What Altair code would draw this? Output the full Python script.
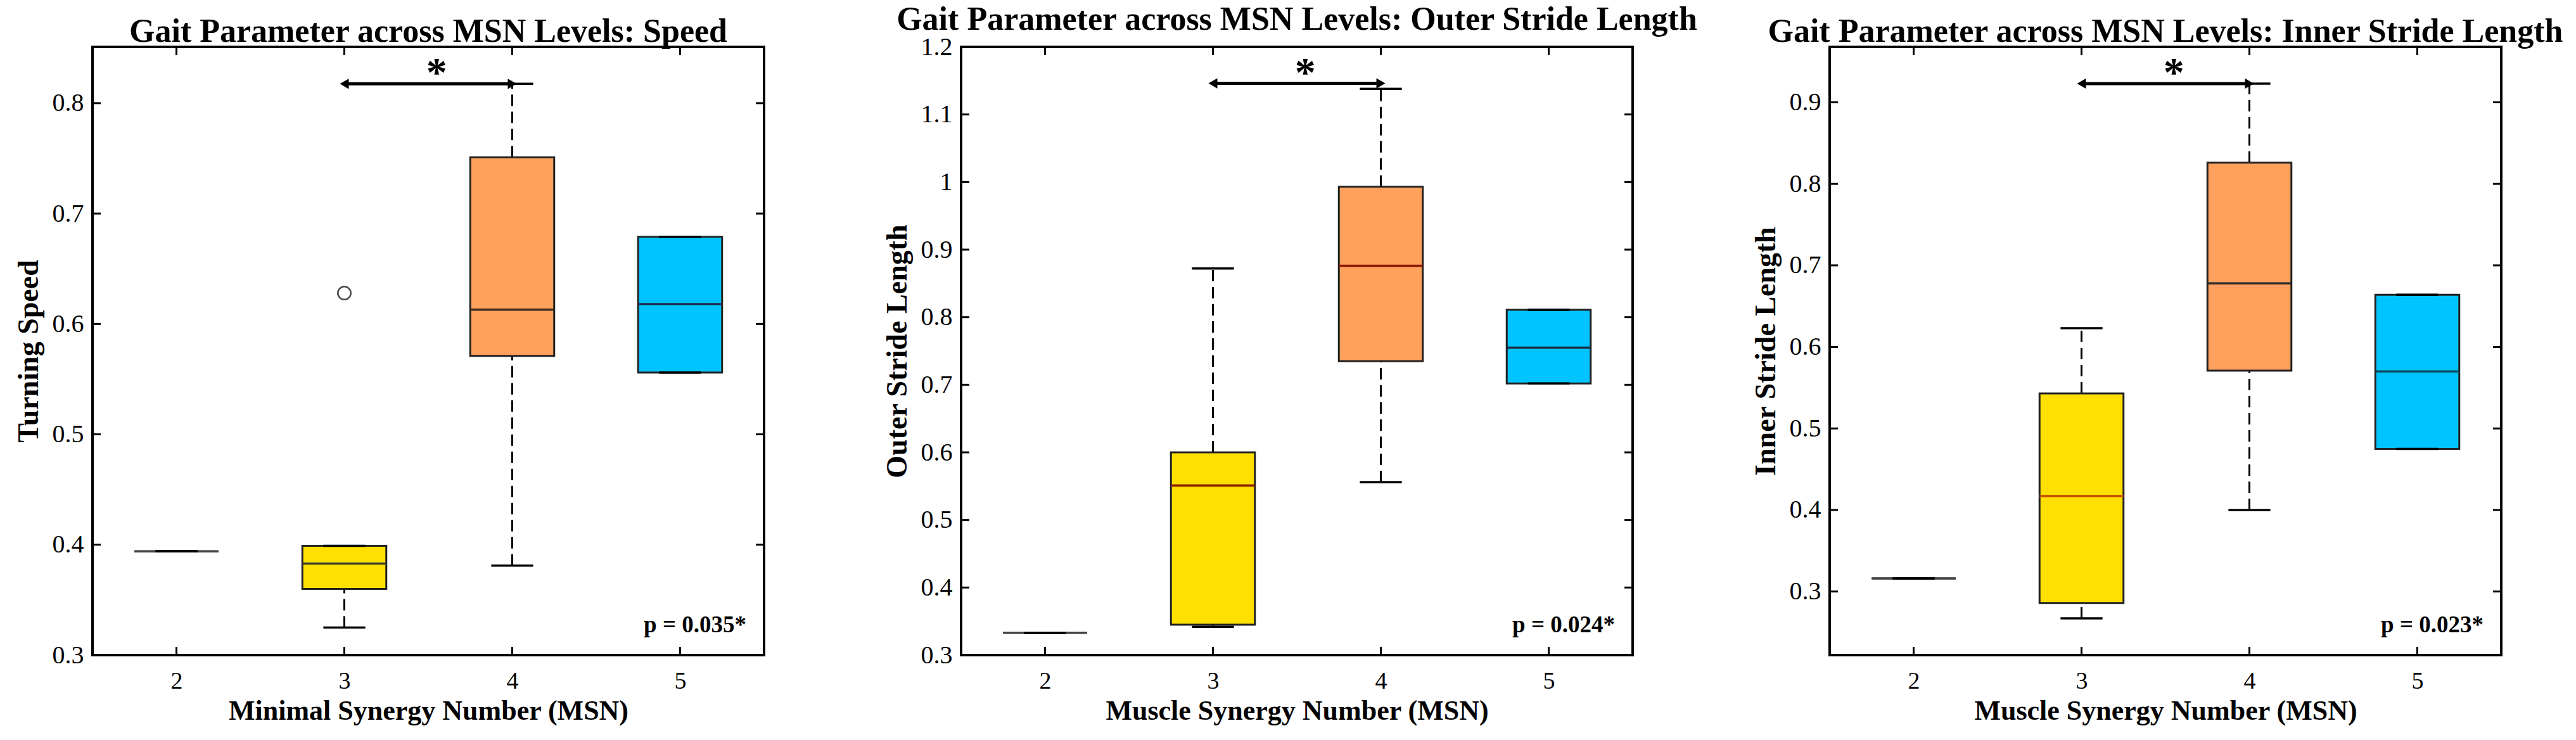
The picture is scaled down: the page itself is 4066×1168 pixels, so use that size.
import altair as alt
import pandas as pd

# Shared categories: MSN level and its slot on the x axis
msn_labels = ["2", "3", "4", "5"]
positions = [1, 2, 3, 4]
box_fill = ["#9a9a9a", "#FFE000", "#FFA05C", "#00C4FF"]

# Panel 1: turning speed
speed_q1 = [0.394, 0.360, 0.571, 0.556]
speed_med = [0.394, 0.383, 0.613, 0.618]
speed_q3 = [0.394, 0.399, 0.751, 0.679]
speed_lo = [0.394, 0.325, 0.381, 0.556]
speed_hi = [0.394, 0.399, 0.8175, 0.679]
speed_out_pos = [2]
speed_out_val = [0.628]
speed_med_color = ["#444444", "#3a3a2a", "#3a2a1a", "#1a2a4a"]
speed_ticks = [0.3, 0.4, 0.5, 0.6, 0.7, 0.8]
speed_domain = [0.3, 0.851]
speed_arrow = 0.8175
speed_p = "p = 0.035*"

# Panel 2: outer stride length
outer_q1 = [0.333, 0.345, 0.735, 0.702]
outer_med = [0.333, 0.551, 0.876, 0.755]
outer_q3 = [0.333, 0.600, 0.993, 0.811]
outer_lo = [0.333, 0.342, 0.556, 0.702]
outer_hi = [0.333, 0.872, 1.138, 0.811]
outer_out_pos = []
outer_out_val = []
outer_med_color = ["#444444", "#8B1A00", "#8B1A00", "#1a2a3a"]
outer_ticks = [0.3, 0.4, 0.5, 0.6, 0.7, 0.8, 0.9, 1.0, 1.1, 1.2]
outer_domain = [0.3, 1.2]
outer_arrow = 1.146
outer_p = "p = 0.024*"

# Panel 3: inner stride length
inner_q1 = [0.316, 0.286, 0.571, 0.475]
inner_med = [0.316, 0.417, 0.678, 0.570]
inner_q3 = [0.316, 0.543, 0.826, 0.664]
inner_lo = [0.316, 0.267, 0.400, 0.475]
inner_hi = [0.316, 0.623, 0.923, 0.664]
inner_out_pos = []
inner_out_val = []
inner_med_color = ["#444444", "#C84A00", "#2a2a2a", "#0a4a5a"]
inner_ticks = [0.3, 0.4, 0.5, 0.6, 0.7, 0.8, 0.9]
inner_domain = [0.222, 0.968]
inner_arrow = 0.923
inner_p = "p = 0.023*"

W, H = 1060, 960
FONT = "Liberation Serif"
TICK = 13


def panel(title, xtitle, ytitle, q1, med, q3, lo, hi, med_color,
          out_pos, out_val, yticks, ydomain, arrow_y, ptext):
    df = pd.DataFrame({
        "pos": positions, "label": msn_labels,
        "q1": q1, "med": med, "q3": q3, "lo": lo, "hi": hi,
        "fill": box_fill, "medc": med_color,
    })
    df["xlo"] = df["pos"] - 0.25
    df["xhi"] = df["pos"] + 0.25
    df["clo"] = df["pos"] - 0.125
    df["chi"] = df["pos"] + 0.125

    xs = alt.Scale(domain=[0.5, 4.5], nice=False, zero=False)
    ys = alt.Scale(domain=ydomain, nice=False, zero=False)

    xa = alt.Axis(
        values=positions, labelExpr="'' + (datum.value + 1)",
        ticks=False, domain=False, grid=False,
        labelFont=FONT, labelFontSize=38, labelColor="black", labelPadding=22,
        title=xtitle, titleFont=FONT, titleFontSize=44, titleFontWeight="bold",
        titleColor="black", titlePadding=6,
    )
    ya = alt.Axis(
        values=yticks, format=".1~f",
        ticks=False, domain=False, grid=False,
        labelFont=FONT, labelFontSize=40, labelColor="black", labelPadding=14,
        title=ytitle, titleFont=FONT, titleFontSize=46, titleFontWeight="bold",
        titleColor="black", titleAngle=-90, titleX=-101, titleY=H / 2,
        titleAlign="center", titleBaseline="middle",
    )

    def X(field):
        return alt.X(field, scale=xs, axis=xa, title=xtitle)

    def Y(field):
        return alt.Y(field, scale=ys, axis=ya, title=ytitle)

    base = alt.Chart(df)

    # inward ticks on all four sides of the frame
    ytick_df = pd.DataFrame({"v": yticks})
    xtick_df = pd.DataFrame({"p": positions})
    left_ticks = alt.Chart(ytick_df).mark_rule(color="black", strokeWidth=3).encode(
        y=Y("v:Q"), x=alt.value(0), x2=alt.value(TICK))
    right_ticks = alt.Chart(ytick_df).mark_rule(color="black", strokeWidth=3).encode(
        y=Y("v:Q"), x=alt.value(W - TICK), x2=alt.value(W))
    bottom_ticks = alt.Chart(xtick_df).mark_rule(color="black", strokeWidth=3).encode(
        x=X("p:Q"), y=alt.value(H - TICK), y2=alt.value(H))
    top_ticks = alt.Chart(xtick_df).mark_rule(color="black", strokeWidth=3).encode(
        x=X("p:Q"), y=alt.value(0), y2=alt.value(TICK))

    upper_whisker = base.mark_rule(color="black", strokeWidth=3, strokeDash=[18, 9]).encode(
        x=X("pos:Q"), y=Y("q3:Q"), y2="hi:Q")
    lower_whisker = base.mark_rule(color="black", strokeWidth=3, strokeDash=[18, 9]).encode(
        x=X("pos:Q"), y=Y("lo:Q"), y2="q1:Q")

    boxes = base.mark_rect(stroke="#222222", strokeWidth=3).encode(
        x=X("xlo:Q"), x2="xhi:Q", y=Y("q1:Q"), y2="q3:Q",
        fill=alt.Fill("fill:N", scale=None),
    )
    medians = base.mark_rule(strokeWidth=3.5).encode(
        x=X("xlo:Q"), x2="xhi:Q", y=Y("med:Q"),
        color=alt.Color("medc:N", scale=None),
    )
    cap_hi = base.mark_rule(color="black", strokeWidth=3.5).encode(
        x=X("clo:Q"), x2="chi:Q", y=Y("hi:Q"))
    cap_lo = base.mark_rule(color="black", strokeWidth=3.5).encode(
        x=X("clo:Q"), x2="chi:Q", y=Y("lo:Q"))

    layers = [left_ticks, right_ticks, bottom_ticks, top_ticks,
              upper_whisker, lower_whisker, boxes, medians, cap_hi, cap_lo]

    if out_pos:
        out_df = pd.DataFrame({"pos": out_pos, "v": out_val})
        layers.append(alt.Chart(out_df).mark_point(
            shape="circle", size=420, filled=False, color="black", strokeWidth=2.5).encode(
            x=X("pos:Q"), y=Y("v:Q")))

    # significance bracket between MSN 3 and MSN 4
    sig_df = pd.DataFrame({"a": [2], "b": [3], "v": [arrow_y], "mid": [2.55], "star": ["*"]})
    sig = alt.Chart(sig_df)
    layers.append(sig.mark_rule(color="black", strokeWidth=5).encode(
        x=X("a:Q"), x2="b:Q", y=Y("v:Q")))
    layers.append(sig.mark_point(shape="triangle-left", size=260, filled=True,
                                 color="black", opacity=1).encode(
        x=X("a:Q"), y=Y("v:Q")))
    layers.append(sig.mark_point(shape="triangle-right", size=260, filled=True,
                                 color="black", opacity=1).encode(
        x=X("b:Q"), y=Y("v:Q")))
    layers.append(sig.mark_text(font=FONT, fontSize=66, fontWeight="bold", color="black",
                                baseline="alphabetic", dy=4).encode(
        x=X("mid:Q"), y=Y("v:Q"), text="star:N"))

    p_df = pd.DataFrame({"t": [ptext]})
    layers.append(alt.Chart(p_df).mark_text(
        font=FONT, fontSize=37, fontWeight="bold", color="black",
        align="right", baseline="alphabetic").encode(
        x=alt.value(W - 28), y=alt.value(H - 36), text="t:N"))

    return alt.layer(*layers).properties(
        width=W, height=H,
        title=alt.TitleParams(title, font=FONT, fontSize=52, fontWeight="bold",
                              color="black", anchor="middle", offset=-4),
    )


p1 = panel("Gait Parameter across MSN Levels: Speed", "Minimal Synergy Number (MSN)",
           "Turning Speed", speed_q1, speed_med, speed_q3, speed_lo, speed_hi,
           speed_med_color, speed_out_pos, speed_out_val, speed_ticks, speed_domain,
           speed_arrow, speed_p)
p2 = panel("Gait Parameter across MSN Levels: Outer Stride Length",
           "Muscle Synergy Number (MSN)", "Outer Stride Length",
           outer_q1, outer_med, outer_q3, outer_lo, outer_hi, outer_med_color,
           outer_out_pos, outer_out_val, outer_ticks, outer_domain, outer_arrow, outer_p)
p3 = panel("Gait Parameter across MSN Levels: Inner Stride Length",
           "Muscle Synergy Number (MSN)", "Inner Stride Length",
           inner_q1, inner_med, inner_q3, inner_lo, inner_hi, inner_med_color,
           inner_out_pos, inner_out_val, inner_ticks, inner_domain, inner_arrow, inner_p)

chart = alt.hconcat(p1, p2, p3, spacing=311, bounds="flush").properties(
    padding={"left": 20, "top": 3, "right": 10, "bottom": 42},
    background="white",
).configure_view(stroke="black", strokeWidth=4)

chart.save("out.html", embed_options={"renderer": "svg", "actions": False})
